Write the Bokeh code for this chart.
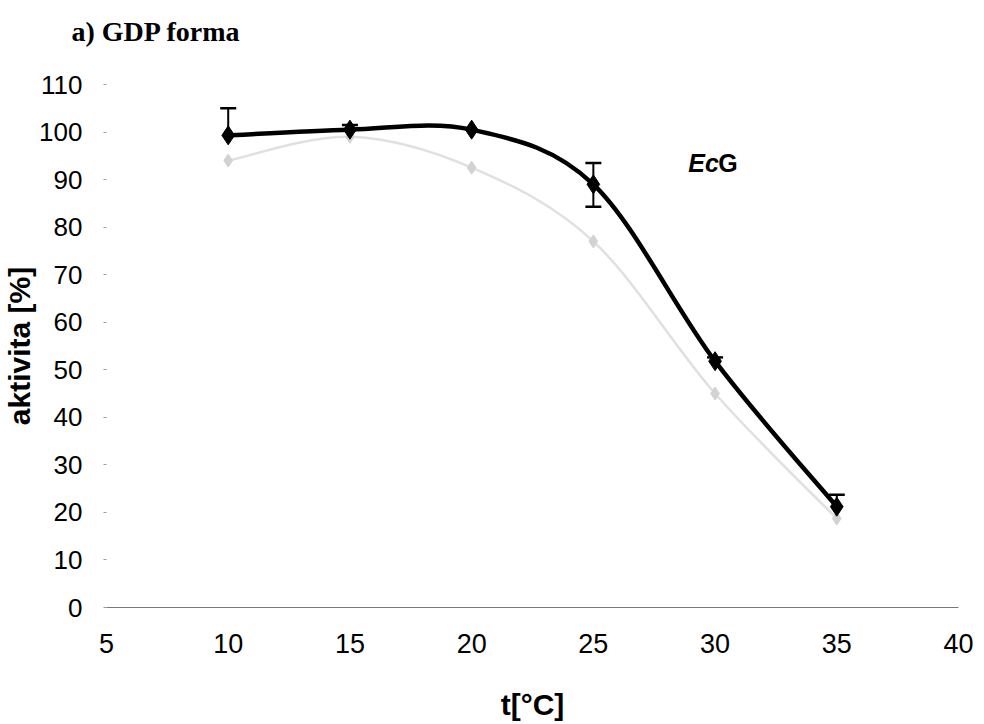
from bokeh.plotting import figure
from bokeh.models import ColumnDataSource, Whisker, TeeHead, Range1d, FixedTicker
from bokeh.core.properties import value
from bokeh.embed import file_html
from bokeh.resources import INLINE

# Measured activity vs. temperature (GDP form)
temps = [10, 15, 20, 25, 30, 35]
activity_ecg = [99.3, 100.5, 100.5, 89.0, 51.8, 21.2]
err_plus = [5.7, 1.0, 0.0, 4.5, 0.8, 2.5]
err_minus = [0.0, 0.0, 0.0, 4.7, 0.0, 0.0]
activity_ref = [94.0, 99.0, 92.5, 77.0, 45.0, 18.7]

x_ticks = [5, 10, 15, 20, 25, 30, 35, 40]
y_ticks = [0, 10, 20, 30, 40, 50, 60, 70, 80, 90, 100, 110]

SANS = "Liberation Sans"
SERIF = "Liberation Serif"


def smooth_segments(xs, ys):
    """Cubic Bezier segments through the points (spreadsheet-style smoothing)."""
    n = len(xs)
    seg = dict(x0=[], y0=[], x1=[], y1=[], cx0=[], cy0=[], cx1=[], cy1=[])
    for i in range(n - 1):
        a = max(i - 1, 0)
        b = min(i + 2, n - 1)
        seg["x0"].append(xs[i])
        seg["y0"].append(ys[i])
        seg["x1"].append(xs[i + 1])
        seg["y1"].append(ys[i + 1])
        seg["cx0"].append(xs[i] + (xs[i + 1] - xs[a]) / 6.0)
        seg["cy0"].append(ys[i] + (ys[i + 1] - ys[a]) / 6.0)
        seg["cx1"].append(xs[i + 1] - (xs[b] - xs[i]) / 6.0)
        seg["cy1"].append(ys[i + 1] - (ys[b] - ys[i]) / 6.0)
    return ColumnDataSource(seg)


p = figure(
    width=984, height=724,
    x_range=Range1d(5, 40), y_range=Range1d(0, 110),
    output_backend="svg", toolbar_location=None,
    min_border_left=104, min_border_right=26,
    min_border_top=84, min_border_bottom=117,
    # trailing empty line lifts the heading away from the plot area
    title="a) GDP forma\n",
)
p.background_fill_color = "white"
p.border_fill_color = "white"
p.outline_line_color = None
p.grid.grid_line_color = None

p.title.text_font = SERIF
p.title.text_font_style = "bold"
p.title.text_font_size = "28px"
p.title.text_color = "black"
p.title.align = "left"
p.title.offset = -35
p.title.standoff = 14

# x axis: thin grey baseline, no ticks
p.xaxis.ticker = FixedTicker(ticks=x_ticks)
p.xaxis.axis_line_color = "#7a7a7a"
p.xaxis.axis_line_width = 1
p.xaxis.major_tick_line_color = None
p.xaxis.minor_tick_line_color = None
p.xaxis.major_label_standoff = 20
p.xaxis.major_label_text_font = SANS
p.xaxis.major_label_text_font_size = "27px"
p.xaxis.major_label_text_color = "black"
p.xaxis.axis_label = "t[°C]"
p.xaxis.axis_label_text_font = SANS
p.xaxis.axis_label_text_font_style = "bold"
p.xaxis.axis_label_text_font_size = "30px"
p.xaxis.axis_label_text_color = "black"
p.xaxis.axis_label_standoff = 32

# y axis: no line, only faint tick marks
p.yaxis.ticker = FixedTicker(ticks=y_ticks)
p.yaxis.axis_line_color = None
p.yaxis.major_tick_line_color = "#9a9a9a"
p.yaxis.major_tick_in = 0
p.yaxis.major_tick_out = 3
p.yaxis.minor_tick_line_color = None
p.yaxis.major_label_standoff = 21
p.yaxis.major_label_text_font = SANS
p.yaxis.major_label_text_font_size = "26px"
p.yaxis.major_label_text_color = "black"
p.yaxis.axis_label = "aktivita [%]"
p.yaxis.axis_label_text_font = SANS
p.yaxis.axis_label_text_font_style = "bold"
p.yaxis.axis_label_text_font_size = "30px"
p.yaxis.axis_label_text_color = "black"
p.yaxis.axis_label_standoff = 0

# faint grey comparison series
ref_src = smooth_segments(temps, activity_ref)
p.bezier(x0="x0", y0="y0", x1="x1", y1="y1", cx0="cx0", cy0="cy0",
         cx1="cx1", cy1="cy1", source=ref_src,
         line_color="#e0e0e0", line_width=2.5)
p.scatter(temps, activity_ref, marker="diamond", size=13,
          fill_color="#d2d2d2", line_color="#d2d2d2")

# EcG series: smoothed black line, diamonds, error bars
ecg_src = smooth_segments(temps, activity_ecg)
p.bezier(x0="x0", y0="y0", x1="x1", y1="y1", cx0="cx0", cy0="cy0",
         cx1="cx1", cy1="cy1", source=ecg_src,
         line_color="black", line_width=4.5)

up = [(t, v, v + e) for t, v, e in zip(temps, activity_ecg, err_plus) if e > 0]
up_src = ColumnDataSource(dict(x=[u[0] for u in up], lo=[u[1] for u in up],
                               hi=[u[2] for u in up]))
p.add_layout(Whisker(base="x", lower="lo", upper="hi", source=up_src,
                     line_color="black", line_width=2, lower_head=None,
                     upper_head=TeeHead(size=16, line_color="black", line_width=2.5)))

dn = [(t, v - e, v) for t, v, e in zip(temps, activity_ecg, err_minus) if e > 0]
dn_src = ColumnDataSource(dict(x=[d[0] for d in dn], lo=[d[1] for d in dn],
                               hi=[d[2] for d in dn]))
p.add_layout(Whisker(base="x", lower="lo", upper="hi", source=dn_src,
                     line_color="black", line_width=2, upper_head=None,
                     lower_head=TeeHead(size=16, line_color="black", line_width=2.5)))

p.scatter(temps, activity_ecg, marker="diamond", size=19,
          fill_color="black", line_color="black")

# series label "EcG" (Ec in italics)
label_x, label_y = 28.9, 93.5
p.text([label_x], [label_y], text=["Ec"], text_font=value(SANS),
       text_font_style="bold italic", text_font_size="25px",
       text_baseline="middle", text_align="left", text_color="black")
p.text([label_x], [label_y], text=["G"], x_offset=30, text_font=value(SANS),
       text_font_style="bold", text_font_size="25px",
       text_baseline="middle", text_align="left", text_color="black")

open("out.html", "w").write(file_html(p, INLINE))
